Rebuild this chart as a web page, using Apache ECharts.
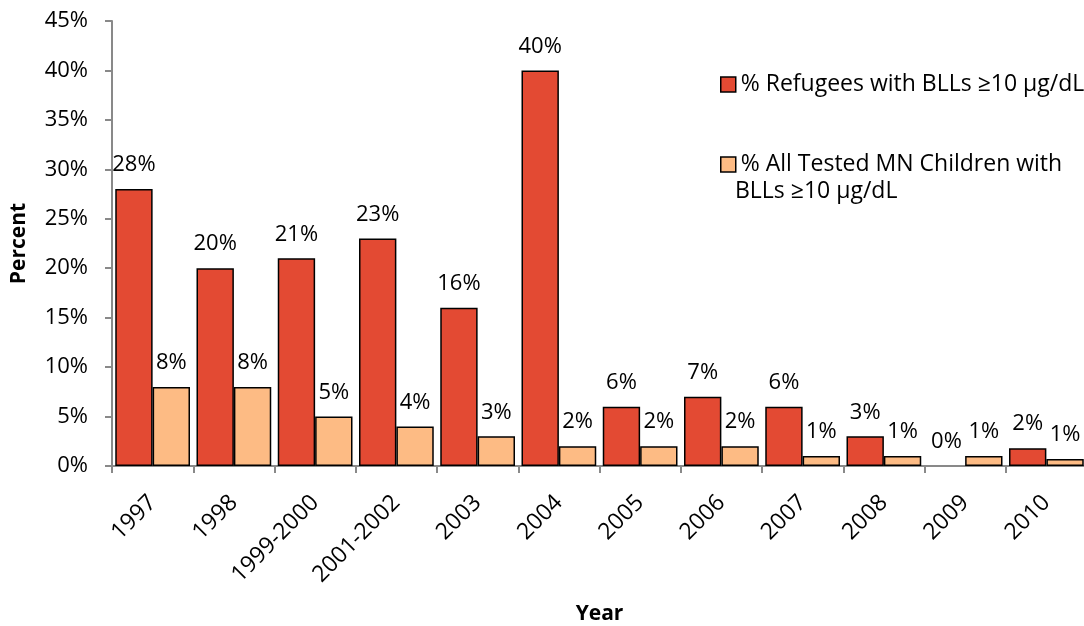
<!DOCTYPE html>
<html>
<head>
<meta charset="utf-8">
<script src="https://cdn.jsdelivr.net/npm/echarts@6/dist/echarts.min.js"></script>
<style>
html,body{margin:0;padding:0;background:#fff;}
#chart{width:1084px;height:626px;}
</style>
</head>
<body>
<div id="chart"></div>
<script>
var categories = ['1997','1998','1999-2000','2001-2002','2003','2004','2005','2006','2007','2008','2009','2010'];
var refugees = [28, 20, 21, 23, 16, 40, 6, 7, 6, 3, 0, 1.8];
var allTested = [8, 8, 5, 4, 3, 2, 2, 2, 1, 1, 1, 0.7];
var seriesNames = ['% Refugees with BLLs \u226510 \u00b5g/dL', '% All Tested MN Children with BLLs \u226510 \u00b5g/dL'];
var legendLines = ['% Refugees with BLLs \u226510 \u00b5g/dL', '% All Tested MN Children with', 'BLLs \u226510 \u00b5g/dL'];

var FONT = 'Open Sans';
var FS = 22;
var LFS = 23;

function toData(arr){
  return arr.map(function(v){ return v === 0 ? {value: v, itemStyle:{borderWidth:0}} : v; });
}

var chart = echarts.init(document.getElementById('chart'), null, {renderer:'canvas'});
var labelCfg = {
  show: true, position: 'top', distance: 13,
  fontFamily: FONT, fontSize: FS, color: '#000',
  formatter: function(p){ return Math.round(p.value) + '%'; }
};
chart.setOption({
  backgroundColor: '#fff',
  animation: false,
  textStyle: {fontFamily: FONT},
  grid: {left: 112, top: 21, width: 975, bottom: 160, containLabel: false, outerBoundsMode: 'none'},
  legend: [
    {
      data: [seriesNames[0]], left: 715, top: 68, orient: 'vertical',
      itemWidth: 15, itemHeight: 15, icon: 'rect',
      itemStyle: {borderColor: '#000', borderWidth: 1.5},
      textStyle: {fontFamily: FONT, fontSize: LFS, color: '#000', lineHeight: 23},
      formatter: function(){ return legendLines[0]; }
    },
    {
      data: [seriesNames[1]], left: 715, top: 148, orient: 'vertical',
      itemWidth: 15, itemHeight: 15, icon: 'rect',
      itemStyle: {borderColor: '#000', borderWidth: 1.5},
      textStyle: {fontFamily: FONT, fontSize: LFS, color: '#000', lineHeight: 23},
      formatter: function(){ return legendLines[1]; }
    }
  ],
  graphic: [{
    type: 'text', left: 735, top: 180, silent: true,
    style: {text: legendLines[2], fontFamily: FONT, fontSize: LFS, fill: '#000'}
  }],
  xAxis: {
    type: 'category', data: categories,
    name: 'Year', nameLocation: 'middle', nameGap: 138,
    nameTextStyle: {fontFamily: FONT, fontSize: 21, fontWeight: 'bold', color: '#000'},
    axisLine: {show: true, lineStyle: {color: '#898989', width: 2}},
    axisTick: {show: true, alignWithLabel: false, length: 7, lineStyle: {color: '#898989', width: 2}},
    axisLabel: {rotate: 45, interval: 0, margin: 33, padding: [14, 0, 0, 0], fontFamily: FONT, fontSize: 23, color: '#000'},
    splitLine: {show: false}
  },
  yAxis: {
    type: 'value', min: 0, max: 45, interval: 5,
    name: 'Percent', nameLocation: 'middle', nameGap: 82,
    nameTextStyle: {fontFamily: FONT, fontSize: 21, fontWeight: 'bold', color: '#000'},
    axisLine: {show: true, lineStyle: {color: '#898989', width: 2}},
    axisTick: {show: true, length: 7, lineStyle: {color: '#898989', width: 2}},
    axisLabel: {margin: 24, fontFamily: FONT, fontSize: FS, color: '#000', formatter: '{value}%'},
    splitLine: {show: false}
  },
  series: [
    {
      name: seriesNames[0], type: 'bar', data: toData(refugees),
      barGap: '0%', barCategoryGap: '8%',
      itemStyle: {color: '#E34A33', borderColor: '#000', borderWidth: 1.5},
      label: labelCfg
    },
    {
      name: seriesNames[1], type: 'bar', data: toData(allTested),
      barGap: '0%', barCategoryGap: '8%',
      itemStyle: {color: '#FDBB84', borderColor: '#000', borderWidth: 1.5},
      label: labelCfg
    }
  ]
});
</script>
</body>
</html>
